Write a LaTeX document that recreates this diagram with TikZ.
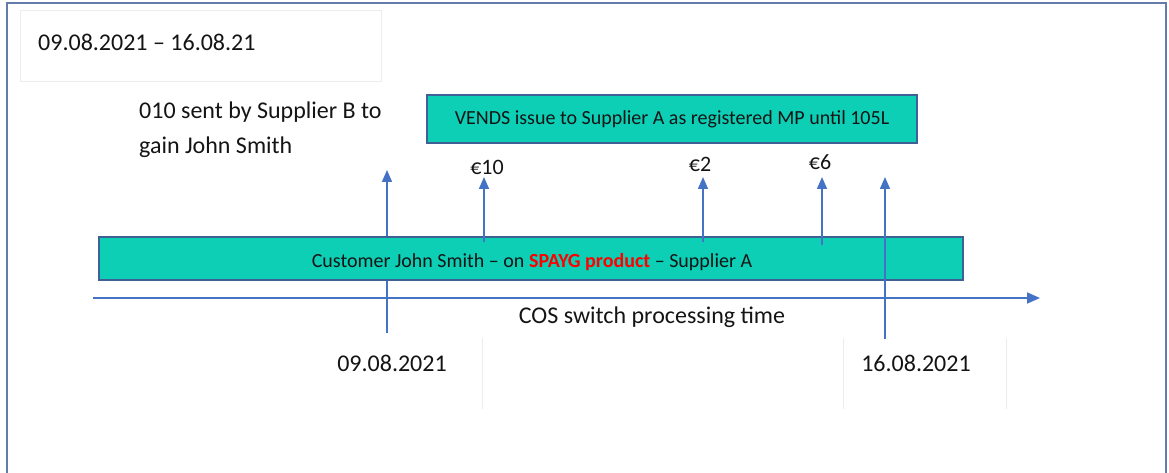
\documentclass[tikz,border=0pt]{standalone}
\usepackage{fontspec}
\setmainfont{Carlito}
\usetikzlibrary{arrows.meta}
\definecolor{frameblue}{RGB}{100,124,170}
\definecolor{lineblue}{RGB}{68,114,196}
\definecolor{boxteal}{RGB}{12,207,181}
\definecolor{boxedge}{RGB}{62,96,148}
\definecolor{faintgray}{RGB}{236,236,236}
\definecolor{txt}{RGB}{20,20,20}
\begin{document}
\begin{tikzpicture}[x=1pt,y=-1pt,
  tealbox/.style={draw=boxedge, line width=1.6pt, fill=boxteal, inner sep=0pt, text=txt, font=\fontsize{20}{24}\selectfont},
  boxtext/.style={text=txt, inner sep=0pt, font=\fontsize{20}{24}\selectfont},
  upar/.style={draw=lineblue, line width=1.6pt, -{Triangle[length=12pt,width=10pt]}},
  axisline/.style={draw=lineblue, line width=1.6pt, -{Triangle[length=13pt,width=11pt]}},
  biglabel/.style={text=txt, inner sep=0pt, font=\fontsize{24}{35}\selectfont},
  eurolabel/.style={text=txt, inner sep=0pt, font=\fontsize{22}{26}\selectfont},
  faintline/.style={draw=faintgray, line width=1pt}]
\useasboundingbox (0,0) rectangle (1169,473);
% outer frame
\draw[frameblue, line width=2.5pt] (7,473) -- (7,3) -- (1166,3) -- (1166,473);
% faint boxes
\draw[faintline] (20,11) rectangle (381,82);
\draw[faintline] (482,338) -- (482,409);
\draw[faintline] (843,338) -- (843,409);
\draw[faintline] (1006,338) -- (1006,409);
% title
\node[biglabel, anchor=west] (title) at (38,42) {09.08.2021 – 16.08.21};
% left text
\node[biglabel, anchor=west, align=left] (sent) at (139,129.5) {010 sent by Supplier B to\\gain John Smith};
% arrow behind the customer box
\coordinate (s1) at (387,333); \coordinate (e1) at (387,170);
\draw[upar] (s1) -- (e1);
% boxes
\node[tealbox, minimum width=490pt, minimum height=48pt] (vends) at (672,119) {VENDS issue to Supplier A as registered MP until 105L};
\node[tealbox, minimum width=864pt, minimum height=43pt] (cust) at (531,258.5) {};
\node[boxtext] (custtext) at (532,262) {Customer John Smith – on {\bfseries\color{red}SPAYG product} – Supplier A};
% axis
\coordinate (ax0) at (93,298);
\coordinate (ax1) at (1040,298);
\draw[axisline] (ax0) -- (ax1);
\node[biglabel] (cos) at (652,317) {COS switch processing time};
% arrows
\coordinate (s2) at (484,242); \coordinate (e2) at (484,177);
\coordinate (s3) at (703,242); \coordinate (e3) at (703,177);
\coordinate (s4) at (822,245); \coordinate (e4) at (822,177);
\coordinate (s5) at (885,339); \coordinate (e5) at (885,177);
\draw[upar] (s2) -- (e2);
\draw[upar] (s3) -- (e3);
\draw[upar] (s4) -- (e4);
\draw[upar] (s5) -- (e5);
% euro labels
\node[eurolabel] (eur10) at (487,167) {€10};
\node[eurolabel] (eur2) at (700,164) {€2};
\node[eurolabel] (eur6) at (820,162) {€6};
% dates
\node[biglabel] (d1) at (392,363) {09.08.2021};
\node[biglabel] (d2) at (916,363) {16.08.2021};
\end{tikzpicture}
\end{document}
